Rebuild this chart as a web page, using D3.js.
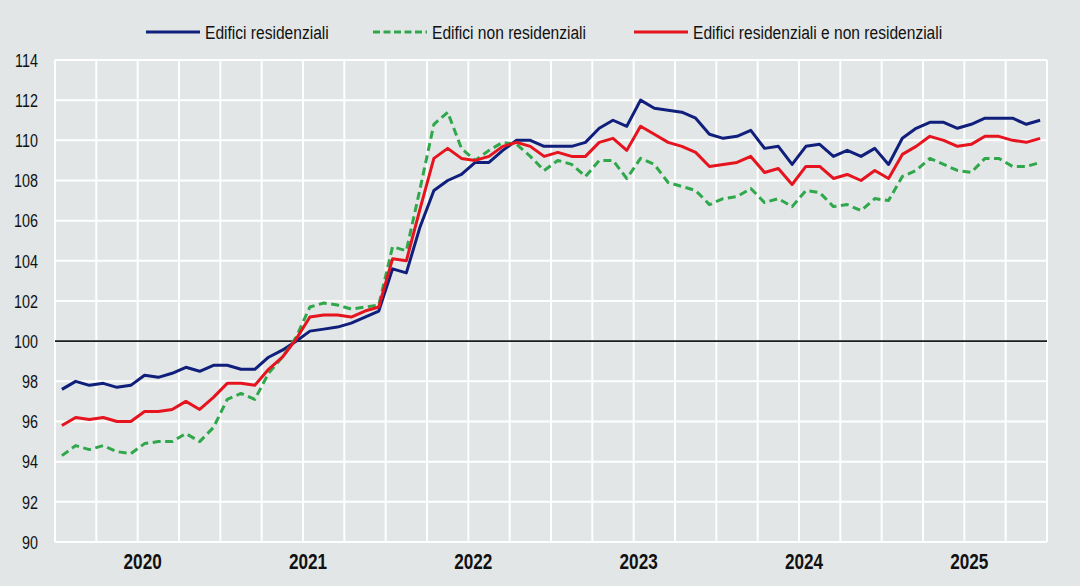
<!DOCTYPE html>
<html>
<head>
<meta charset="utf-8">
<script src="https://cdn.jsdelivr.net/npm/d3@7"></script>
<style>
  html, body { margin: 0; padding: 0; background: #e2e6e6; }
  svg { display: block; }
  .narrow { font-family: "Liberation Sans Narrow", "Arial Narrow", "Liberation Sans", Arial, sans-serif; }
</style>
</head>
<body>
<svg id="chart" width="1080" height="586"></svg>
<script>
// ---- Data (monthly, Jan 2020 – Dec 2025) ----
const years = ["2020", "2021", "2022", "2023", "2024", "2025"];
const seriesNames = ["Edifici residenziali", "Edifici non residenziali", "Edifici residenziali e non residenziali"];
const yTicks = [90, 92, 94, 96, 98, 100, 102, 104, 106, 108, 110, 112, 114];

const residenziali = [
  97.6, 98.0, 97.8, 97.9, 97.7, 97.8, 98.3, 98.2, 98.4, 98.7, 98.5, 98.8,
  98.8, 98.6, 98.6, 99.2, 99.55, 100.0, 100.5, 100.6, 100.7, 100.9, 101.2, 101.5,
  103.6, 103.4, 105.7, 107.5, 108.0, 108.3, 108.9, 108.9, 109.5, 110.0, 110.0, 109.7,
  109.7, 109.7, 109.9, 110.6, 111.0, 110.7, 112.0, 111.6, 111.5, 111.4, 111.1, 110.3,
  110.1, 110.2, 110.5, 109.6, 109.7, 108.8, 109.7, 109.8, 109.2, 109.5, 109.2, 109.6,
  108.8, 110.1, 110.6, 110.9, 110.9, 110.6, 110.8, 111.1, 111.1, 111.1, 110.8, 111.0
];
const nonResidenziali = [
  94.3, 94.8, 94.6, 94.8, 94.5, 94.4, 94.9, 95.0, 95.0, 95.4, 95.0, 95.7,
  97.1, 97.4, 97.1, 98.4, 99.2, 100.2, 101.7, 101.9, 101.8, 101.6, 101.7, 101.8,
  104.7, 104.5, 107.6, 110.8, 111.4, 109.6, 109.0, 109.5, 109.9, 109.8, 109.2, 108.5,
  109.0, 108.8, 108.2, 109.0, 109.0, 108.1, 109.1, 108.8, 107.9, 107.7, 107.5, 106.8,
  107.1, 107.2, 107.6, 106.9, 107.1, 106.7, 107.5, 107.4, 106.7, 106.8, 106.5, 107.1,
  107.0, 108.2, 108.5, 109.1, 108.8, 108.5, 108.4, 109.1, 109.1, 108.7, 108.7, 108.9
];
const totale = [
  95.8, 96.2, 96.1, 96.2, 96.0, 96.0, 96.5, 96.5, 96.6, 97.0, 96.6, 97.2,
  97.9, 97.9, 97.8, 98.6, 99.2, 100.1, 101.2, 101.3, 101.3, 101.2, 101.5, 101.7,
  104.1, 104.0, 106.6, 109.1, 109.6, 109.1, 109.0, 109.2, 109.7, 109.9, 109.7, 109.2,
  109.4, 109.2, 109.2, 109.9, 110.1, 109.5, 110.7, 110.3, 109.9, 109.7, 109.4, 108.7,
  108.8, 108.9, 109.2, 108.4, 108.6, 107.8, 108.7, 108.7, 108.1, 108.3, 108.0, 108.5,
  108.1, 109.3, 109.7, 110.2, 110.0, 109.7, 109.8, 110.2, 110.2, 110.0, 109.9, 110.1
];

(function () {
  const svg = d3.select("#chart");
  const W = 1080, H = 586;
  const mLeft = 55, mRight = 1047, mTop = 60, mBottom = 542;
  const nMonths = residenziali.length;
  const NARROW = 0.82; // horizontal condensing to mimic a narrow typeface

  svg.append("rect").attr("width", W).attr("height", H).attr("fill", "#e2e6e6");

  const x = d3.scaleLinear().domain([0, nMonths]).range([mLeft, mRight]);
  const y = d3.scaleLinear().domain([90, 114]).range([mBottom, mTop]);

  // gridlines
  const g = svg.append("g");
  g.selectAll("line.h").data(yTicks).join("line").attr("class", "h")
    .attr("x1", mLeft).attr("x2", mRight)
    .attr("y1", d => y(d)).attr("y2", d => y(d))
    .attr("stroke", "#ffffff").attr("stroke-width", 2);
  g.selectAll("line.v").data(d3.range(0, nMonths + 1, 3)).join("line").attr("class", "v")
    .attr("x1", d => x(d)).attr("x2", d => x(d))
    .attr("y1", mTop).attr("y2", mBottom)
    .attr("stroke", "#ffffff").attr("stroke-width", 2);

  // y axis labels
  const yAxis = d3.axisLeft(y).tickValues(yTicks).tickSize(0).tickPadding(0).tickFormat(d3.format("d"));
  const ya = svg.append("g").attr("transform", `translate(${mLeft - 17},0)`).call(yAxis);
  ya.select(".domain").remove();
  ya.attr("font-family", null);
  ya.selectAll("text").attr("class", "narrow").attr("font-size", 17.5).attr("fill", "#111")
    .attr("dy", "0.36em").attr("transform", `scale(${NARROW},1)`);

  // x axis year labels
  const xYear = d3.scaleBand().domain(years).range([mLeft, mRight]);
  const xa = svg.append("g").attr("transform", `translate(5,${mBottom})`)
    .call(d3.axisBottom(xYear).tickSize(0).tickPadding(11));
  xa.select(".domain").remove();
  xa.attr("font-family", null);
  xa.selectAll("text").attr("class", "narrow").attr("font-size", 22).attr("font-weight", "bold")
    .attr("fill", "#111").attr("transform", "scale(0.78,1)");

  // 100 reference line
  svg.append("line").attr("x1", mLeft).attr("x2", mRight)
    .attr("y1", y(100)).attr("y2", y(100))
    .attr("stroke", "#1a1a1a").attr("stroke-width", 1.6);

  // lines
  const line = d3.line().x((d, i) => x(i + 0.5)).y(d => y(d));
  const series = [
    { name: seriesNames[0], values: residenziali, color: "#101f7c", dash: null },
    { name: seriesNames[1], values: nonResidenziali, color: "#2fa84b", dash: "8,4.5" },
    { name: seriesNames[2], values: totale, color: "#e5141f", dash: null }
  ];
  series.forEach(s => {
    svg.append("path").datum(s.values)
      .attr("d", line)
      .attr("fill", "none")
      .attr("stroke", s.color)
      .attr("stroke-width", 3)
      .attr("stroke-linejoin", "round")
      .attr("stroke-dasharray", s.dash);
  });

  // legend
  const legendItems = [
    { s: series[0], x1: 146, x2: 200, tx: 205 },
    { s: series[1], x1: 373, x2: 427, tx: 432 },
    { s: series[2], x1: 634, x2: 688, tx: 693 }
  ];
  const lg = svg.append("g");
  legendItems.forEach(it => {
    lg.append("line").attr("x1", it.x1).attr("x2", it.x2).attr("y1", 32).attr("y2", 32)
      .attr("stroke", it.s.color).attr("stroke-width", 3.2)
      .attr("stroke-dasharray", it.s.dash ? "7,3.5" : null);
    lg.append("text").attr("class", "narrow")
      .attr("transform", `translate(${it.tx},32) scale(${NARROW},1)`)
      .attr("dy", "0.35em")
      .attr("font-size", 19).attr("fill", "#111").text(it.s.name);
  });
})();
</script>
</body>
</html>
